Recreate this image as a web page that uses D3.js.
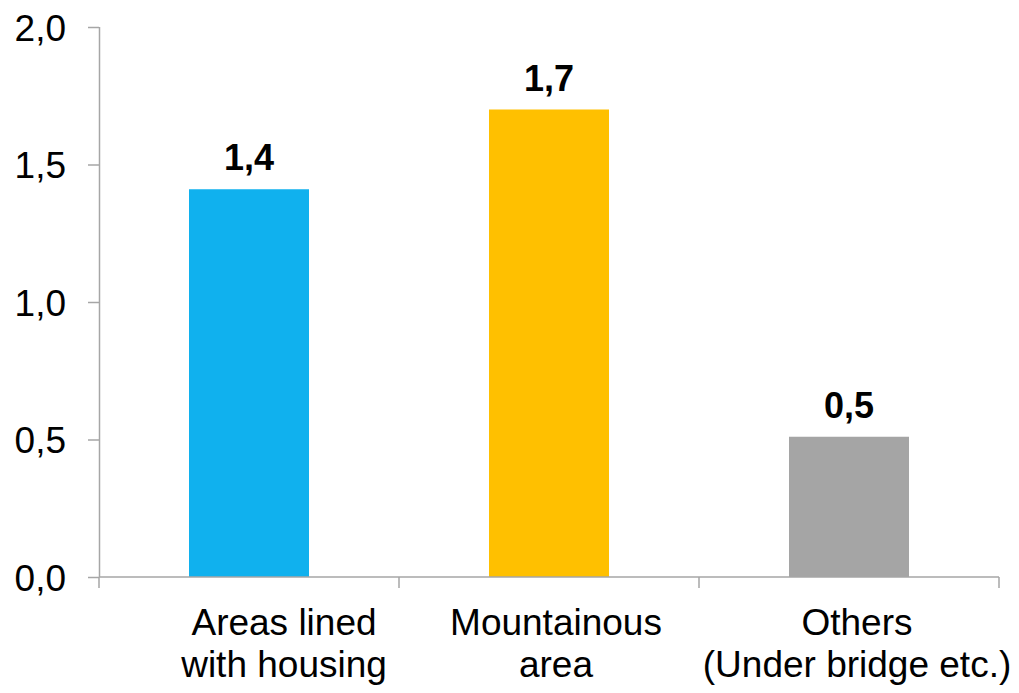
<!DOCTYPE html>
<html>
<head>
<meta charset="utf-8">
<script src="https://cdn.jsdelivr.net/npm/d3@7"></script>
<style>
  body { margin: 0; background: #fff; }
  text { font-family: "Liberation Sans", Arial, sans-serif; fill: #000; }
</style>
</head>
<body>
<div id="chart"></div>
<script>
// data
var categories = [["Areas lined", "with housing"], ["Mountainous", "area"], ["Others", "(Under bridge etc.)"]];
var values = [1.41, 1.70, 0.51];
var valueLabels = ["1,4", "1,7", "0,5"];
var colors = ["#10B1EE", "#FFC000", "#A5A5A5"];
var yTicks = [0, 0.5, 1.0, 1.5, 2.0];
var yTickLabels = ["0,0", "0,5", "1,0", "1,5", "2,0"];

// horizontal nudge of each category label (layout, as in the original)
var labelDx = [35, 7, 8];

var W = 1019, H = 693;
var margin = {top: 27, right: 20, bottom: 116, left: 99};
var width = 999 - margin.left, height = 577 - margin.top;

var svg = d3.select("#chart")
  .append("svg")
    .attr("width", W)
    .attr("height", H)
  .append("g")
    .attr("transform", "translate(" + margin.left + "," + margin.top + ")");

var x = d3.scaleBand()
  .domain(d3.range(categories.length))
  .range([0, width])
  .paddingInner(0.6)
  .paddingOuter(0.3);

var xOuter = d3.scaleBand()
  .domain(d3.range(categories.length))
  .range([0, width]);

var y = d3.scaleLinear()
  .domain([0, 2])
  .range([height, 0]);

// bars
svg.selectAll("rect.bar")
  .data(values)
  .enter().append("rect")
    .attr("class", "bar")
    .attr("x", function(d, i) { return x(i); })
    .attr("y", function(d) { return y(d); })
    .attr("width", x.bandwidth())
    .attr("height", function(d) { return y(0) - y(d); })
    .style("fill", function(d, i) { return colors[i]; });

// value labels
svg.selectAll("text.val")
  .data(values)
  .enter().append("text")
    .attr("class", "val")
    .attr("x", function(d, i) { return x(i) + x.bandwidth() / 2; })
    .attr("y", function(d) { return y(d) - 19; })
    .attr("text-anchor", "middle")
    .style("font-size", "36px")
    .style("font-weight", "bold")
    .text(function(d, i) { return valueLabels[i]; });

// y axis
var yAxis = svg.append("g")
  .call(d3.axisLeft(y).tickValues(yTicks).tickSize(11).tickPadding(22)
    .tickFormat(function(d, i) { return yTickLabels[i]; }));
yAxis.select(".domain").attr("stroke", "#A6A6A6").attr("stroke-width", 1.5).attr("d", "M0.5," + height + "V0");
yAxis.selectAll(".tick line").attr("stroke", "#A6A6A6").attr("stroke-width", 1.5);
yAxis.selectAll(".tick text")
  .style("font-size", "37px")
  .style("font-family", "'Liberation Sans', Arial, sans-serif")
  .attr("fill", "#000")
  .attr("dy", "0.36em");

// x axis: line plus tick marks at category boundaries
var xg = svg.append("g").attr("transform", "translate(0," + height + ")");
xg.append("line")
  .attr("x1", 0).attr("x2", width)
  .attr("y1", 0).attr("y2", 0)
  .attr("stroke", "#A6A6A6").attr("stroke-width", 1.5);
var bounds = xOuter.domain().map(function(i) { return xOuter(i); }).concat([width]);
xg.selectAll("line.tk")
  .data(bounds)
  .enter().append("line")
    .attr("class", "tk")
    .attr("x1", function(d) { return d; }).attr("x2", function(d) { return d; })
    .attr("y1", 0).attr("y2", 11)
    .attr("stroke", "#A6A6A6").attr("stroke-width", 1.5);

// category labels
var cat = xg.selectAll("text.cat")
  .data(categories)
  .enter().append("text")
    .attr("class", "cat")
    .attr("text-anchor", "middle")
    .style("font-size", "37px")
    .attr("transform", function(d, i) {
      return "translate(" + (xOuter(i) + xOuter.bandwidth() / 2 + labelDx[i]) + ",58)";
    });
cat.selectAll("tspan")
  .data(function(d) { return d; })
  .enter().append("tspan")
    .attr("x", 0)
    .attr("dy", function(d, j) { return j === 0 ? 0 : 42; })
    .text(function(d) { return d; });
</script>
</body>
</html>
